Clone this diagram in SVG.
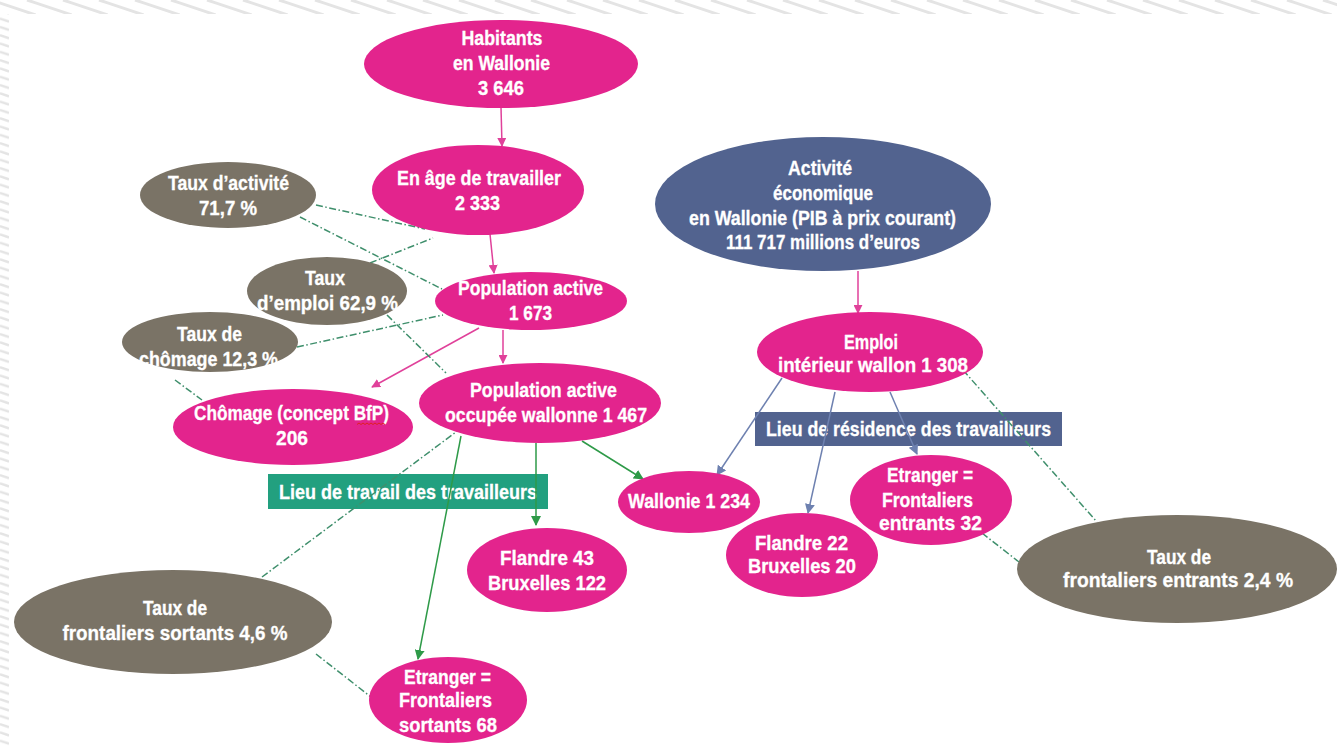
<svg xmlns="http://www.w3.org/2000/svg" width="1337" height="747" viewBox="0 0 1337 747">
<style>
text{font-family:"Liberation Sans",Arial,sans-serif;font-weight:bold;font-size:20px;fill:#ffffff;stroke:#ffffff;stroke-width:0.3;text-anchor:middle;}
.pink{fill:#E3248D;}
.gray{fill:#7A7366;}
.blue{fill:#52638F;}
.green{fill:#22A07F;}
.ap{stroke:#E0419A;stroke-width:1.5;fill:none;marker-end:url(#mp);}
.ag{stroke:#2E9A48;stroke-width:1.5;fill:none;marker-end:url(#mg);}
.ab{stroke:#6E81B0;stroke-width:1.5;fill:none;marker-end:url(#mb);}
.dd{stroke:#3F8F6C;stroke-width:1.5;fill:none;stroke-dasharray:7 2.5 1.5 2.5;}
</style>
<defs>
<marker id="mp" viewBox="0 0 10 10" refX="9" refY="5" markerWidth="9" markerHeight="9" markerUnits="userSpaceOnUse" orient="auto"><path d="M0,0 L10,5 L0,10 z" fill="#E0419A"/></marker>
<marker id="mg" viewBox="0 0 10 10" refX="9" refY="5" markerWidth="10" markerHeight="10" markerUnits="userSpaceOnUse" orient="auto"><path d="M0,0 L10,5 L0,10 z" fill="#2E9A48"/></marker>
<marker id="mb" viewBox="0 0 10 10" refX="9" refY="5" markerWidth="10" markerHeight="10" markerUnits="userSpaceOnUse" orient="auto"><path d="M0,0 L10,5 L0,10 z" fill="#6E81B0"/></marker>
<pattern id="ptop" patternUnits="userSpaceOnUse" width="36" height="15">
<g stroke="#E4E4E4" stroke-width="3">
<line x1="-45" y1="0" x2="0" y2="15"/><line x1="-9" y1="0" x2="36" y2="15"/><line x1="27" y1="0" x2="72" y2="15"/>
</g>
</pattern>
<pattern id="pleft" patternUnits="userSpaceOnUse" width="9" height="8.3">
<line x1="0" y1="2" x2="9" y2="5" stroke="#E4E4E4" stroke-width="2.4"/>
</pattern>
</defs>
<rect width="1337" height="747" fill="#ffffff"/>
<rect x="0" y="0" width="1337" height="14" fill="url(#ptop)"/>
<rect x="0" y="14" width="9" height="733" fill="url(#pleft)"/>

<g id="label-travail">
<rect class="green" x="268" y="474" width="280" height="35"/>
<text x="408" y="499" textLength="258" lengthAdjust="spacingAndGlyphs">Lieu de travail des travailleurs</text>
</g>
<g id="label-residence">
<rect class="blue" x="755" y="412" width="307" height="34"/>
<text x="908.5" y="436" textLength="285" lengthAdjust="spacingAndGlyphs">Lieu de résidence des travailleurs</text>
</g>

<g id="connectors">
<line class="ap" x1="501" y1="107" x2="502" y2="146"/>
<line class="ap" x1="490" y1="234" x2="494" y2="273"/>
<line class="ap" x1="479" y1="328" x2="372" y2="387"/>
<line class="ap" x1="503" y1="330" x2="503" y2="363"/>
<line class="ap" x1="858" y1="271" x2="858" y2="313"/>
<line class="ag" x1="461" y1="436" x2="418" y2="659"/>
<line class="ag" x1="536" y1="443" x2="536" y2="525"/>
<line class="ag" x1="582" y1="441" x2="643" y2="479"/>
<line class="ab" x1="782" y1="378" x2="717" y2="475"/>
<line class="ab" x1="835" y1="392" x2="808" y2="513"/>
<line class="ab" x1="890" y1="392" x2="917" y2="454"/>
<line class="dd" x1="316" y1="205" x2="425" y2="229"/>
<line class="dd" x1="300" y1="217" x2="442" y2="289"/>
<line class="dd" x1="370" y1="263" x2="433" y2="238"/>
<line class="dd" x1="387" y1="315" x2="446" y2="373"/>
<line class="dd" x1="297" y1="347" x2="443" y2="315"/>
<line class="dd" x1="175" y1="380" x2="202" y2="400"/>
<line class="dd" x1="262" y1="577" x2="456" y2="432"/>
<line class="dd" x1="316" y1="654" x2="371" y2="697"/>
<line class="dd" x1="963" y1="370" x2="1097" y2="522"/>
<line class="dd" x1="982" y1="533" x2="1019" y2="562"/>
</g>

<g id="habitants">
<ellipse class="pink" cx="501" cy="64" rx="137" ry="44"/>
<text x="502" y="45" textLength="81" lengthAdjust="spacingAndGlyphs">Habitants</text>
<text x="501.5" y="70" textLength="97" lengthAdjust="spacingAndGlyphs">en Wallonie</text>
<text x="501" y="95" textLength="46" lengthAdjust="spacingAndGlyphs">3 646</text>
</g>
<g id="age-travailler">
<ellipse class="pink" cx="478" cy="190" rx="106" ry="45"/>
<text x="479" y="185" textLength="164" lengthAdjust="spacingAndGlyphs">En âge de travailler</text>
<text x="477.5" y="210" textLength="45" lengthAdjust="spacingAndGlyphs">2 333</text>
</g>
<g id="taux-activite">
<ellipse class="gray" cx="228" cy="195" rx="88" ry="33"/>
<text x="228.5" y="190" textLength="121" lengthAdjust="spacingAndGlyphs">Taux d’activité</text>
<text x="228" y="215" textLength="58" lengthAdjust="spacingAndGlyphs">71,7 %</text>
</g>
<g id="taux-emploi">
<ellipse class="gray" cx="327" cy="291" rx="80" ry="34"/>
<text x="325" y="285" textLength="40" lengthAdjust="spacingAndGlyphs">Taux</text>
<text x="327.5" y="310" textLength="141" lengthAdjust="spacingAndGlyphs">d’emploi  62,9 %</text>
</g>
<g id="taux-chomage">
<ellipse class="gray" cx="210" cy="342" rx="88" ry="30"/>
<text x="209.5" y="341" textLength="65" lengthAdjust="spacingAndGlyphs">Taux de</text>
<text x="208.5" y="366" textLength="139" lengthAdjust="spacingAndGlyphs">chômage 12,3 %</text>
</g>
<g id="chomage">
<ellipse class="pink" cx="293" cy="427" rx="120" ry="38"/>
<text x="291.5" y="420" textLength="195" lengthAdjust="spacingAndGlyphs">Chômage (concept BfP)</text>
<path d="M357,424.5 l2,-1.5 l2,1.5 l2,-1.5 l2,1.5 l2,-1.5 l2,1.5 l2,-1.5 l2,1.5 l2,-1.5 l2,1.5 l2,-1.5 l2,1.5 l2,-1.5 l2,1.5" stroke="#E02020" stroke-width="1" fill="none"/>
<text x="292" y="445" textLength="32" lengthAdjust="spacingAndGlyphs">206</text>
</g>
<g id="population-active">
<ellipse class="pink" cx="531" cy="301" rx="96" ry="29"/>
<text x="530.5" y="295" textLength="145" lengthAdjust="spacingAndGlyphs">Population active</text>
<text x="530.5" y="320" textLength="43" lengthAdjust="spacingAndGlyphs">1 673</text>
</g>
<g id="population-occupee">
<ellipse class="pink" cx="540" cy="403" rx="121" ry="40"/>
<text x="543.5" y="397" textLength="147" lengthAdjust="spacingAndGlyphs">Population active</text>
<text x="546" y="422" textLength="202" lengthAdjust="spacingAndGlyphs">occupée wallonne  1 467</text>
</g>
<g id="activite-economique">
<ellipse class="blue" cx="823" cy="204" rx="168" ry="67"/>
<text x="820" y="175" textLength="64" lengthAdjust="spacingAndGlyphs">Activité</text>
<text x="823" y="200" textLength="100" lengthAdjust="spacingAndGlyphs">économique</text>
<text x="822.5" y="225" textLength="267" lengthAdjust="spacingAndGlyphs">en Wallonie (PIB à prix courant)</text>
<text x="823" y="249" textLength="194" lengthAdjust="spacingAndGlyphs">111 717 millions d’euros</text>
</g>
<g id="emploi-interieur">
<ellipse class="pink" cx="870" cy="352" rx="113" ry="40"/>
<text x="871" y="349" textLength="54" lengthAdjust="spacingAndGlyphs">Emploi</text>
<text x="873" y="372" textLength="190" lengthAdjust="spacingAndGlyphs">intérieur wallon  1 308</text>
</g>
<g id="wallonie">
<ellipse class="pink" cx="689" cy="502" rx="71" ry="31"/>
<text x="689" y="508" textLength="122" lengthAdjust="spacingAndGlyphs">Wallonie 1 234</text>
</g>
<g id="flandre-residence">
<ellipse class="pink" cx="802" cy="555" rx="76" ry="42"/>
<text x="801.5" y="550" textLength="93" lengthAdjust="spacingAndGlyphs">Flandre  22</text>
<text x="802" y="573" textLength="108" lengthAdjust="spacingAndGlyphs">Bruxelles  20</text>
</g>
<g id="frontaliers-entrants">
<ellipse class="pink" cx="931" cy="500" rx="81" ry="45"/>
<text x="930" y="482" textLength="86" lengthAdjust="spacingAndGlyphs">Etranger =</text>
<text x="927.5" y="507" textLength="91" lengthAdjust="spacingAndGlyphs">Frontaliers</text>
<text x="930.5" y="530" textLength="103" lengthAdjust="spacingAndGlyphs">entrants  32</text>
</g>
<g id="taux-frontaliers-entrants">
<ellipse class="gray" cx="1177" cy="569" rx="160" ry="54"/>
<text x="1179" y="564" textLength="64" lengthAdjust="spacingAndGlyphs">Taux de</text>
<text x="1178" y="587" textLength="230" lengthAdjust="spacingAndGlyphs">frontaliers  entrants 2,4 %</text>
</g>
<g id="flandre-travail">
<ellipse class="pink" cx="547" cy="570" rx="80" ry="42"/>
<text x="547" y="565" textLength="94" lengthAdjust="spacingAndGlyphs">Flandre  43</text>
<text x="547" y="590" textLength="118" lengthAdjust="spacingAndGlyphs">Bruxelles  122</text>
</g>
<g id="frontaliers-sortants">
<ellipse class="pink" cx="448" cy="700" rx="79" ry="43"/>
<text x="447.5" y="684" textLength="87" lengthAdjust="spacingAndGlyphs">Etranger =</text>
<text x="445.5" y="707" textLength="93" lengthAdjust="spacingAndGlyphs">Frontaliers</text>
<text x="448" y="732" textLength="98" lengthAdjust="spacingAndGlyphs">sortants 68</text>
</g>
<g id="taux-frontaliers-sortants">
<ellipse class="gray" cx="173" cy="622" rx="159" ry="52"/>
<text x="175" y="615" textLength="64" lengthAdjust="spacingAndGlyphs">Taux de</text>
<text x="175" y="640" textLength="225" lengthAdjust="spacingAndGlyphs">frontaliers sortants 4,6 %</text>
</g>
</svg>
